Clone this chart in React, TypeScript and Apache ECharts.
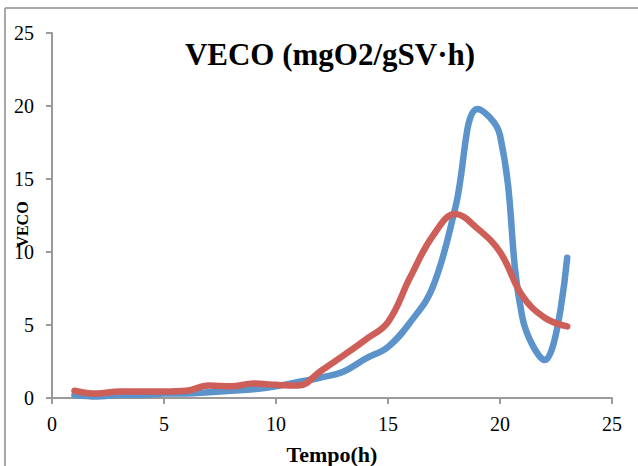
import React, { useEffect, useRef } from "react";
import * as echarts from "echarts";

const hours = [1, 2, 3, 4, 5, 6, 7, 8, 9, 10, 11, 12, 13, 14, 15, 16, 17, 18, 19, 20, 21, 22, 23];
const blueSeries = [0.2, 0.1, 0.2, 0.2, 0.3, 0.3, 0.4, 0.5, 0.6, 0.8, 1.1, 1.4, 1.8, 2.7, 3.5, 5.2, 7.6, 13.0, 19.8, 18.0, 5.5, 2.6, 9.6];
const redSeries = [0.5, 0.3, 0.45, 0.45, 0.45, 0.5, 0.85, 0.8, 1.0, 0.9, 0.85, 1.85, 2.9, 4.0, 5.2, 8.3, 11.1, 12.6, 11.6, 10.0, 7.0, 5.5, 4.9];
const xTicks = [0, 5, 10, 15, 20, 25];
const yTicks = [0, 5, 10, 15, 20, 25];

const serif = "'Liberation Serif', 'DejaVu Serif', serif";

export default function App() {
  const ref = useRef<HTMLDivElement>(null);
  useEffect(() => {
    document.body.style.margin = "0";
    const chart = echarts.init(ref.current!, null, { renderer: "svg" });
    const axisLine = { show: true, lineStyle: { color: "#9a9a9a", width: 2 } };
    chart.setOption({
      animation: false,
      backgroundColor: "#ffffff",
      title: {
        text: "VECO (mgO2/gSV·h)",
        left: 325,
        top: 34,
        textAlign: "center",
        textStyle: { fontFamily: serif, fontWeight: "bold", fontSize: 31, color: "#000" },
      },
      grid: { left: 52, right: 26, top: 33, bottom: 68, containLabel: false, outerBoundsMode: "none" },
      xAxis: {
        type: "value",
        min: xTicks[0],
        max: xTicks[xTicks.length - 1],
        interval: 5,
        name: "Tempo(h)",
        nameLocation: "middle",
        nameGap: 45,
        nameMoveOverlap: false,
        nameTextStyle: { fontFamily: serif, fontWeight: "bold", fontSize: 22, color: "#000" },
        axisLine,
        axisTick: { show: true, inside: false, length: 6, lineStyle: { color: "#9a9a9a", width: 2 } },
        axisLabel: { fontFamily: serif, fontSize: 20, color: "#000", margin: 16 },
        splitLine: { show: false },
      },
      yAxis: {
        type: "value",
        min: yTicks[0],
        max: yTicks[yTicks.length - 1],
        interval: 5,
        name: "VECO",
        nameLocation: "middle",
        nameGap: 22,
        nameMoveOverlap: false,
        nameRotate: 90,
        nameTextStyle: { fontFamily: serif, fontWeight: "bold", fontSize: 16, color: "#000", padding: [0, 18, 0, 0] },
        axisLine,
        axisTick: { show: true, inside: false, length: 6, lineStyle: { color: "#9a9a9a", width: 2 } },
        axisLabel: { fontFamily: serif, fontSize: 20, color: "#000", margin: 18 },
        splitLine: { show: false },
      },
      graphic: [
        { type: "line", shape: { x1: 5, y1: 8, x2: 5, y2: 466 }, style: { stroke: "#a8a8a8", lineWidth: 2 } },
        { type: "line", shape: { x1: 5, y1: 8, x2: 638, y2: 8 }, style: { stroke: "#a8a8a8", lineWidth: 2 } },
      ],
      series: [
        {
          type: "line",
          data: hours.map((h, i) => [h, blueSeries[i]]),
          smooth: 0.4,
          showSymbol: false,
          lineStyle: { color: "#5b93ca", width: 6.5, cap: "round", join: "round" },
        },
        {
          type: "line",
          data: hours.map((h, i) => [h, redSeries[i]]),
          smooth: 0.4,
          showSymbol: false,
          lineStyle: { color: "#cd5f58", width: 6.5, cap: "round", join: "round" },
        },
      ],
    });
    return () => chart.dispose();
  }, []);
  return <div ref={ref} style={{ width: 638, height: 466 }} />;
}
